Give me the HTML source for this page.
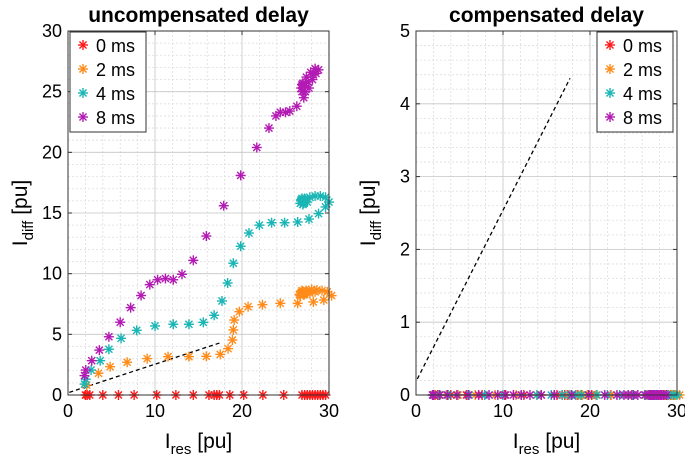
<!DOCTYPE html>
<html><head><meta charset="utf-8"><style>
body{margin:0;background:#fff;}
svg{font-family:"Liberation Sans",sans-serif;}
</style></head><body>
<svg id="c" width="685" height="467" viewBox="0 0 685 467"></svg>
<script>
const delays=["0 ms","2 ms","4 ms","8 ms"];
const colors=["#ff1a1a","#ff8c1a","#1ab5b5","#b31ab3"];
const redX=[2,2.2,2.5,4,5.8,7.6,10.2,12.4,14.4,16.2,16.8,17.1,17.4,18.6,20.2,22.4,24.8,26.9,27.2,27.5,27.8,28.1,28.4,28.7,29,29.3,29.6];
const redY=redX.map(()=>0);
const orX=[2.15,3.5,4.84,6.8,9.1,11.5,13.9,15.9,17.5,18.4,18.9,19.0,19.1,19.7,20.7,22.35,24.4,26.4,28.2,29.4,30.3,29.8,29.2,28.6,28,27.4,26.9,26.6,26.7,27.2,27.8,28.4,26.8,27.0,27.1,27.3,26.9,27.5,27.0];
const orY=[0.82,1.79,2.33,2.7,3.0,3.16,3.16,3.19,3.35,3.82,4.53,5.36,6.18,6.87,7.28,7.44,7.56,7.56,7.67,7.83,8.19,8.5,8.6,8.65,8.7,8.6,8.5,8.3,8.2,8.3,8.4,8.5,8.45,8.35,8.25,8.45,8.6,8.5,8.55];
const cyX=[1.9,2.04,2.65,3.7,4.7,6.1,7.9,10.0,12.1,13.9,15.55,16.8,17.7,18.35,19.0,19.85,20.8,22.0,23.4,24.9,26.4,27.7,28.8,29.6,30,29.6,29,28.4,27.8,27.2,26.8,26.7,27,27.5,26.9,27.1,27.2,27.0,26.8,27.3,27.1];
const cyY=[0.9,1.3,2.06,2.83,3.77,4.67,5.33,5.69,5.83,5.83,5.99,6.57,7.75,9.23,10.86,12.26,13.35,14.0,14.2,14.2,14.26,14.5,14.95,15.5,15.9,16.3,16.4,16.4,16.3,16.2,16.0,15.8,15.7,15.9,16.2,16.1,15.9,16.0,16.1,16.1,15.8];
const mgX=[1.9,2.04,2.73,3.6,4.7,6.0,7.2,8.4,9.4,10.3,11.2,12.1,13.1,14.4,15.9,17.9,19.85,21.7,23.1,23.9,24.4,25.0,25.5,26.3,27.1,27.7,28.1,28.5,28.8,28.4,27.9,27.4,27.0,26.8,26.9,27.3,27.6,28.2,27.2,26.9];
const mgY=[1.6,2.06,2.83,3.7,4.8,6.0,7.2,8.2,9.1,9.5,9.6,9.5,9.95,11.1,13.1,15.6,18.1,20.4,22.0,23.0,23.3,23.3,23.4,23.8,24.5,25.3,26.0,26.5,26.8,26.9,26.6,26.2,25.7,25.3,25.0,25.0,25.8,26.4,25.5,25.6];
const lineX=[0.15,17.7], lineY=[0.22,4.35];
const ns="http://www.w3.org/2000/svg";
const svg=document.getElementById('c');
function el(t,a,p){const e=document.createElementNS(ns,t);for(const k in a)e.setAttribute(k,a[k]);(p||svg).appendChild(e);return e;}
function star(g,x,y,c){const r=5;
 for(let i=0;i<4;i++){const a=i*Math.PI/4;el('line',{x1:x-r*Math.cos(a),y1:y-r*Math.sin(a),x2:x+r*Math.cos(a),y2:y+r*Math.sin(a),stroke:c,'stroke-width':1.4},g);}}
function plot(o){
 const L=o.L,R=o.R,T=31,B=395;
 const sx=v=>L+(v-0)/30*(R-L), sy=v=>B-v/o.ymax*(B-T);
 const g=el('g',{});
 for(let v=0;v<=30;v+=2){el('line',{x1:sx(v),x2:sx(v),y1:T,y2:B,stroke:'#ddd','stroke-width':0.8,'stroke-dasharray':'2,2'},g);}
 for(let i=0;i<=o.ymax/o.ymin;i++){const v=i*o.ymin;el('line',{x1:L,x2:R,y1:sy(v),y2:sy(v),stroke:'#ddd','stroke-width':0.8,'stroke-dasharray':'2,2'},g);}
 for(let v=0;v<=30;v+=10){el('line',{x1:sx(v),x2:sx(v),y1:T,y2:B,stroke:'#c8c8c8','stroke-width':0.8},g);
  const t=el('text',{x:sx(v),y:B+22,'text-anchor':'middle','font-size':18},g);t.textContent=v;
  el('line',{x1:sx(v),x2:sx(v),y1:B,y2:B-4,stroke:'#333'},g);el('line',{x1:sx(v),x2:sx(v),y1:T,y2:T+4,stroke:'#333'},g);}
 for(let v=0;v<=o.ymax;v+=o.ymaj){el('line',{x1:L,x2:R,y1:sy(v),y2:sy(v),stroke:'#c8c8c8','stroke-width':0.8},g);
  const t=el('text',{x:L-6,y:sy(v)+6,'text-anchor':'end','font-size':18},g);t.textContent=v;
  el('line',{x1:L,x2:L+4,y1:sy(v),y2:sy(v),stroke:'#333'},g);el('line',{x1:R,x2:R-4,y1:sy(v),y2:sy(v),stroke:'#333'},g);}
 const dl=el('line',{x1:sx(lineX[0]),y1:sy(lineY[0]),x2:sx(lineX[1]),y2:sy(lineY[1]),stroke:'#000','stroke-width':1.3,'stroke-dasharray':'4,3'},g);
 
 const series=o.series;
 series.forEach((s,k)=>{const sg=el('g',{},g);
  s[0].forEach((x,i)=>star(sg,sx(x),sy(s[1][i]),colors[k]));});
 el('rect',{x:L,y:T,width:R-L,height:B-T,fill:'none',stroke:'#333','stroke-width':1},g);
 const tt=el('text',{x:(L+R)/2,y:22,'text-anchor':'middle','font-size':21,'font-weight':'bold'},g);tt.textContent=o.title;
 
 const xl=el('text',{x:(L+R)/2,y:448,'text-anchor':'middle','font-size':21},g);
 xl.innerHTML='I<tspan font-size="15" dy="6">res</tspan><tspan dy="-6"> [pu]</tspan>';
 
 const yl=el('text',{transform:`translate(${o.yl},213) rotate(-90)`,'text-anchor':'middle','font-size':21},g);
 yl.innerHTML='I<tspan font-size="15" dy="6">diff</tspan><tspan dy="-6"> [pu]</tspan>';
 
 const lg=el('g',{},g);
 el('rect',{x:o.lx,y:32,width:76,height:100,fill:'#fff',stroke:'#333'},lg);
 delays.forEach((d,k)=>{star(lg,o.lx+13,45+k*24,colors[k]);const t=el('text',{x:o.lx+26,y:52+k*24,'font-size':18},lg);t.textContent=d;});
}
plot({name:'uncompensated-plot',L:68,R:329,ymax:30,ymaj:5,ymin:1,title:'uncompensated delay',yl:27,lx:70,
 series:[[redX,redY],[orX,orY],[cyX,cyY],[mgX,mgY]]});
const z=a=>a.map(()=>0);
plot({name:'compensated-plot',L:416,R:677,ymax:5,ymaj:1,ymin:0.2,title:'compensated delay',yl:375,lx:597,
 series:[[redX,redY],[orX,z(orX)],[cyX,z(cyX)],[mgX,z(mgX)]]});
</script>
</body></html>
